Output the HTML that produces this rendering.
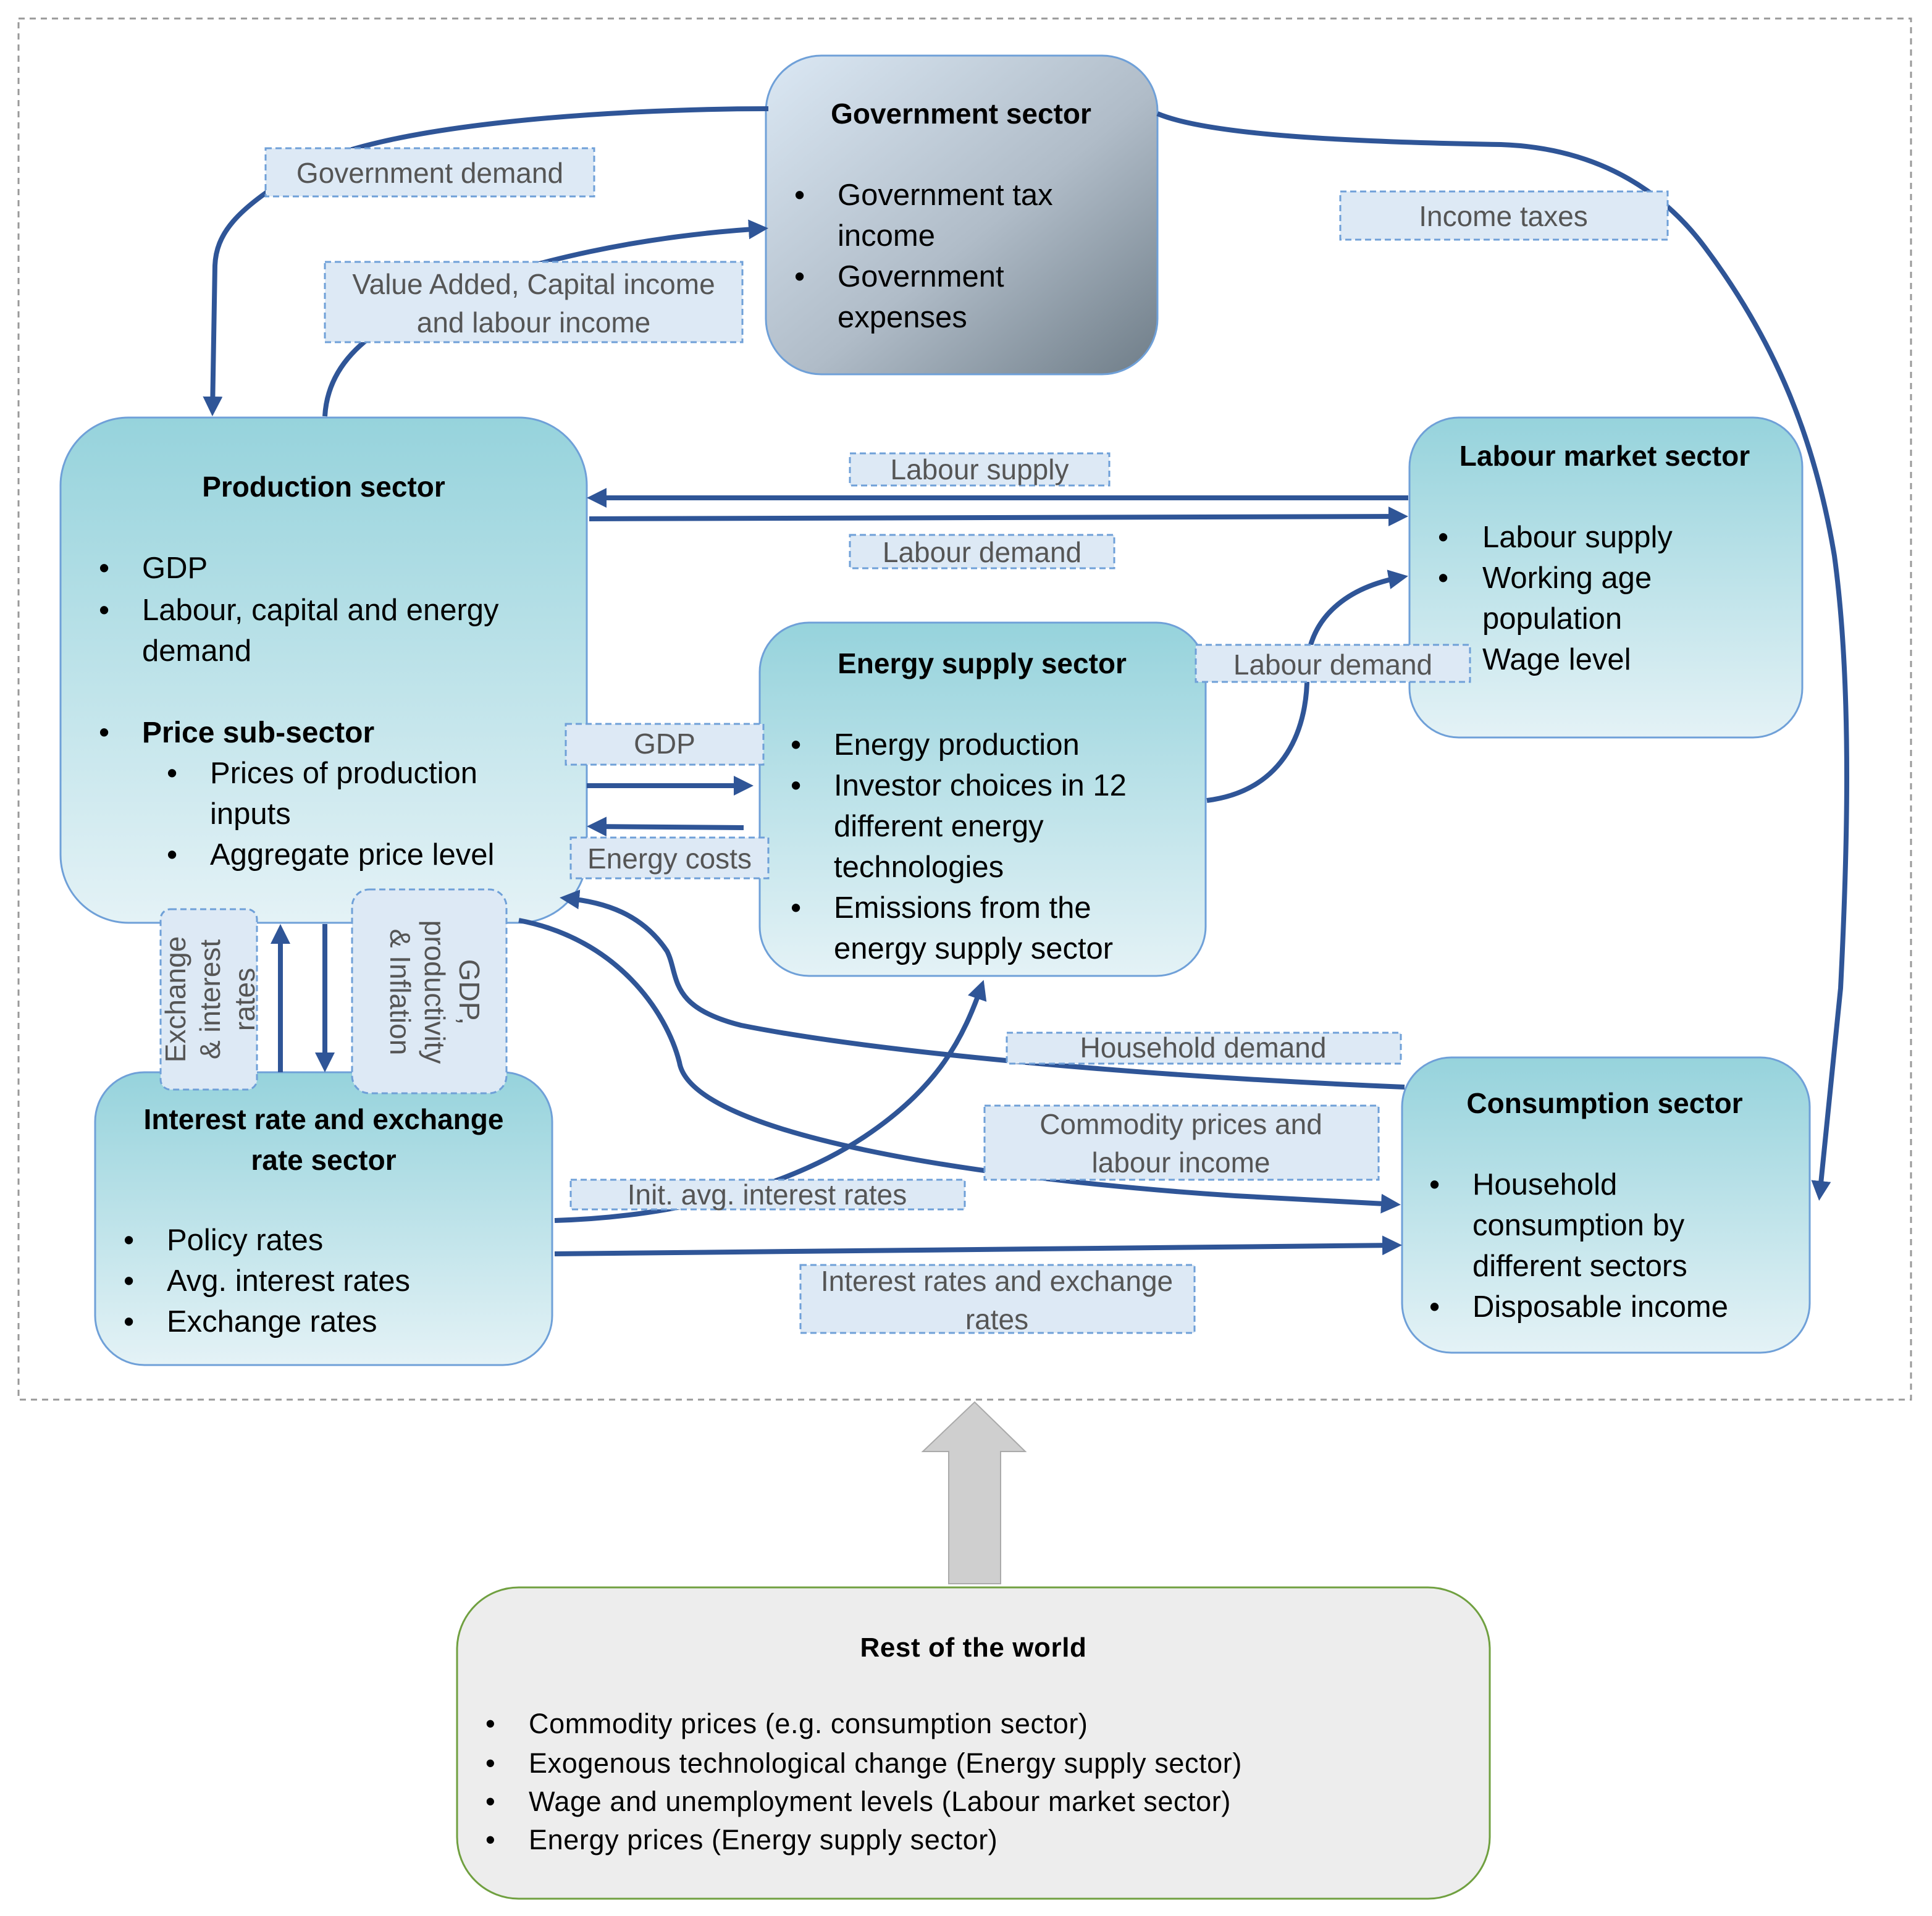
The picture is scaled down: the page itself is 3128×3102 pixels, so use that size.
<!DOCTYPE html>
<html><head><meta charset="utf-8"><style>
html,body{margin:0;padding:0;background:#fff}
svg{display:block}
text{font-family:"Liberation Sans",sans-serif}
.t{font-size:24.5px;fill:#000}
.t .b{font-weight:bold;font-size:23px}
.l{font-size:23px;fill:#555}
.lb{fill:#dde9f5;stroke:#6fa0d8;stroke-width:1.5;stroke-dasharray:5,3}
.c{fill:none;stroke:#2f5597;stroke-width:4}
</style></head><body>
<svg width="3128" height="3102" viewBox="0 0 1564 1551" xmlns="http://www.w3.org/2000/svg">
<defs>
<marker id="a" markerWidth="4" markerHeight="4" refX="3" refY="2" orient="auto" markerUnits="strokeWidth"><path d="M0,0 L4,2 L0,4 z" fill="#2f5597"/></marker>
<linearGradient id="tg" x1="0" y1="0" x2="0" y2="1"><stop offset="0" stop-color="#96d3dc"/><stop offset="1" stop-color="#e4f2f6"/></linearGradient>
<linearGradient id="gg" x1="0" y1="0" x2="1" y2="1"><stop offset="0" stop-color="#dbe8f4"/><stop offset="0.55" stop-color="#b0bcc8"/><stop offset="1" stop-color="#6f7d88"/></linearGradient>
</defs>
<rect width="1564" height="1551" fill="#fff"/>
<rect x="15" y="15" width="1532" height="1118" fill="none" stroke="#999" stroke-width="1.5" stroke-dasharray="5,4"/>

<rect x="620" y="45" width="317" height="258" rx="45" fill="url(#gg)" stroke="#6fa0d8" stroke-width="1.5"/>
<rect x="49" y="338" width="426" height="409" rx="55" fill="url(#tg)" stroke="#6fa0d8" stroke-width="1.5"/>
<rect x="1141" y="338" width="318" height="259" rx="40" fill="url(#tg)" stroke="#6fa0d8" stroke-width="1.5"/>
<rect x="615" y="504" width="361" height="286" rx="40" fill="url(#tg)" stroke="#6fa0d8" stroke-width="1.5"/>
<rect x="77" y="868" width="370" height="237" rx="40" fill="url(#tg)" stroke="#6fa0d8" stroke-width="1.5"/>
<rect x="1135" y="856" width="330" height="239" rx="40" fill="url(#tg)" stroke="#6fa0d8" stroke-width="1.5"/>
<rect x="370" y="1285" width="836" height="252" rx="50" fill="#ededed" stroke="#70a040" stroke-width="1.5"/>

<path d="M768,1282 L768,1175 L747,1175 L789,1135 L830,1175 L810,1175 L810,1282 Z" fill="#cfcfcf" stroke="#aaa" stroke-width="1"/>

<path class="c" marker-end="url(#a)" d="M622,88 C500,88 300,100 240,140 C190,170 175,190 174,215 L172,333"/>
<path class="c" marker-end="url(#a)" d="M263,337 C265,300 290,270 350,245 C420,210 530,190 618,185"/>
<path class="c" marker-end="url(#a)" d="M937,92 C980,110 1100,115 1215,117 C1300,120 1350,160 1380,200 C1440,280 1470,360 1485,450 C1500,560 1495,700 1490,800 L1473,968"/>
<path class="c" marker-end="url(#a)" d="M1140,403 L479,403"/>
<path class="c" marker-end="url(#a)" d="M477,420 L1136,418"/>
<path class="c" marker-end="url(#a)" d="M977,648 C1040,640 1060,590 1058,540 C1060,500 1090,475 1136,467"/>
<path class="c" marker-end="url(#a)" d="M475,636 L606,636"/>
<path class="c" marker-end="url(#a)" d="M602,670 L479,669"/>
<path class="c" marker-end="url(#a)" d="M227,868 L227,752"/>
<path class="c" marker-end="url(#a)" d="M263,748 L263,864"/>
<path class="c" marker-end="url(#a)" d="M1137,880 C900,870 700,850 600,830 C540,815 550,790 540,770 C520,740 490,730 457,727"/>
<path class="c" marker-end="url(#a)" d="M420,745 C500,760 540,820 550,860 C560,920 800,955 1000,968 L1130,975"/>
<path class="c" marker-end="url(#a)" d="M449,988 C550,985 640,960 700,920 C760,880 780,840 795,797"/>
<path class="c" marker-end="url(#a)" d="M449,1015 L1131,1008"/>

<g class="t">
<text x="778" y="100" text-anchor="middle" class="b">Government sector</text>
<text x="643" y="166">•</text><text x="678" y="166">Government tax</text>
<text x="678" y="199">income</text>
<text x="643" y="232">•</text><text x="678" y="232">Government</text>
<text x="678" y="265">expenses</text>

<text x="262" y="402" text-anchor="middle" class="b">Production sector</text>
<text x="80" y="468">•</text><text x="115" y="468">GDP</text>
<text x="80" y="502">•</text><text x="115" y="502">Labour, capital and energy</text>
<text x="115" y="535">demand</text>
<text x="80" y="601">•</text><text x="115" y="601" class="b" style="font-size:24px">Price sub-sector</text>
<text x="135" y="634">•</text><text x="170" y="634">Prices of production</text>
<text x="170" y="667">inputs</text>
<text x="135" y="700">•</text><text x="170" y="700">Aggregate price level</text>

<text x="1299" y="377" text-anchor="middle" class="b">Labour market sector</text>
<text x="1164" y="443">•</text><text x="1200" y="443">Labour supply</text>
<text x="1164" y="476">•</text><text x="1200" y="476">Working age</text>
<text x="1200" y="509">population</text>
<text x="1200" y="542">Wage level</text>

<text x="795" y="545" text-anchor="middle" class="b">Energy supply sector</text>
<text x="640" y="611">•</text><text x="675" y="611">Energy production</text>
<text x="640" y="644">•</text><text x="675" y="644">Investor choices in 12</text>
<text x="675" y="677">different energy</text>
<text x="675" y="710">technologies</text>
<text x="640" y="743">•</text><text x="675" y="743">Emissions from the</text>
<text x="675" y="776">energy supply sector</text>

<text x="262" y="914" text-anchor="middle" class="b">Interest rate and exchange</text>
<text x="262" y="947" text-anchor="middle" class="b">rate sector</text>
<text x="100" y="1012">•</text><text x="135" y="1012">Policy rates</text>
<text x="100" y="1045">•</text><text x="135" y="1045">Avg. interest rates</text>
<text x="100" y="1078">•</text><text x="135" y="1078">Exchange rates</text>

<text x="1299" y="901" text-anchor="middle" class="b">Consumption sector</text>
<text x="1157" y="967">•</text><text x="1192" y="967">Household</text>
<text x="1192" y="1000">consumption by</text>
<text x="1192" y="1033">different sectors</text>
<text x="1157" y="1066">•</text><text x="1192" y="1066">Disposable income</text>
</g>
<g style="font-size:22.5px;fill:#000;letter-spacing:0.3px">
<text x="788" y="1341" text-anchor="middle" font-weight="bold" style="font-size:22px">Rest of the world</text>
<text x="393" y="1403">•</text><text x="428" y="1403">Commodity prices (e.g. consumption sector)</text>
<text x="393" y="1435">•</text><text x="428" y="1435">Exogenous technological change (Energy supply sector)</text>
<text x="393" y="1466">•</text><text x="428" y="1466">Wage and unemployment levels (Labour market sector)</text>
<text x="393" y="1497">•</text><text x="428" y="1497">Energy prices (Energy supply sector)</text>
</g>

<rect class="lb" x="215" y="120" width="266" height="39"/><text class="l" x="348" y="148" text-anchor="middle">Government demand</text>
<rect class="lb" x="263" y="212" width="338" height="65"/><text class="l" x="432" y="238" text-anchor="middle">Value Added, Capital income</text><text class="l" x="432" y="269" text-anchor="middle">and labour income</text>
<rect class="lb" x="1085" y="155" width="265" height="39"/><text class="l" x="1217" y="183" text-anchor="middle">Income taxes</text>
<rect class="lb" x="688" y="367" width="210" height="26"/><text class="l" x="793" y="388" text-anchor="middle">Labour supply</text>
<rect class="lb" x="688" y="433" width="214" height="27"/><text class="l" x="795" y="455" text-anchor="middle">Labour demand</text>
<rect class="lb" x="968" y="522" width="222" height="30"/><text class="l" x="1079" y="546" text-anchor="middle">Labour demand</text>
<rect class="lb" x="458" y="586" width="160" height="33"/><text class="l" x="538" y="610" text-anchor="middle">GDP</text>
<rect class="lb" x="462" y="678" width="160" height="33"/><text class="l" x="542" y="703" text-anchor="middle">Energy costs</text>
<rect class="lb" x="130" y="736" width="78" height="146" rx="8"/>
<text class="l" transform="translate(150,809) rotate(-90)" text-anchor="middle">Exchange</text>
<text class="l" transform="translate(178,809) rotate(-90)" text-anchor="middle">&amp; interest</text>
<text class="l" transform="translate(206,809) rotate(-90)" text-anchor="middle">rates</text>
<rect class="lb" x="285" y="720" width="125" height="165" rx="14"/>
<text class="l" transform="translate(372,803) rotate(90)" text-anchor="middle">GDP,</text>
<text class="l" transform="translate(344,803) rotate(90)" text-anchor="middle">productivity</text>
<text class="l" transform="translate(316,803) rotate(90)" text-anchor="middle">&amp; Inflation</text>
<rect class="lb" x="815" y="836" width="319" height="25"/><text class="l" x="974" y="856" text-anchor="middle">Household demand</text>
<rect class="lb" x="797" y="895" width="319" height="60"/><text class="l" x="956" y="918" text-anchor="middle">Commodity prices and</text><text class="l" x="956" y="949" text-anchor="middle">labour income</text>
<rect class="lb" x="462" y="955" width="319" height="24"/><text class="l" x="621" y="975" text-anchor="middle">Init. avg. interest rates</text>
<rect class="lb" x="648" y="1024" width="319" height="55"/><text class="l" x="807" y="1045" text-anchor="middle">Interest rates and exchange</text><text class="l" x="807" y="1076" text-anchor="middle">rates</text>
</svg>
</body></html>
